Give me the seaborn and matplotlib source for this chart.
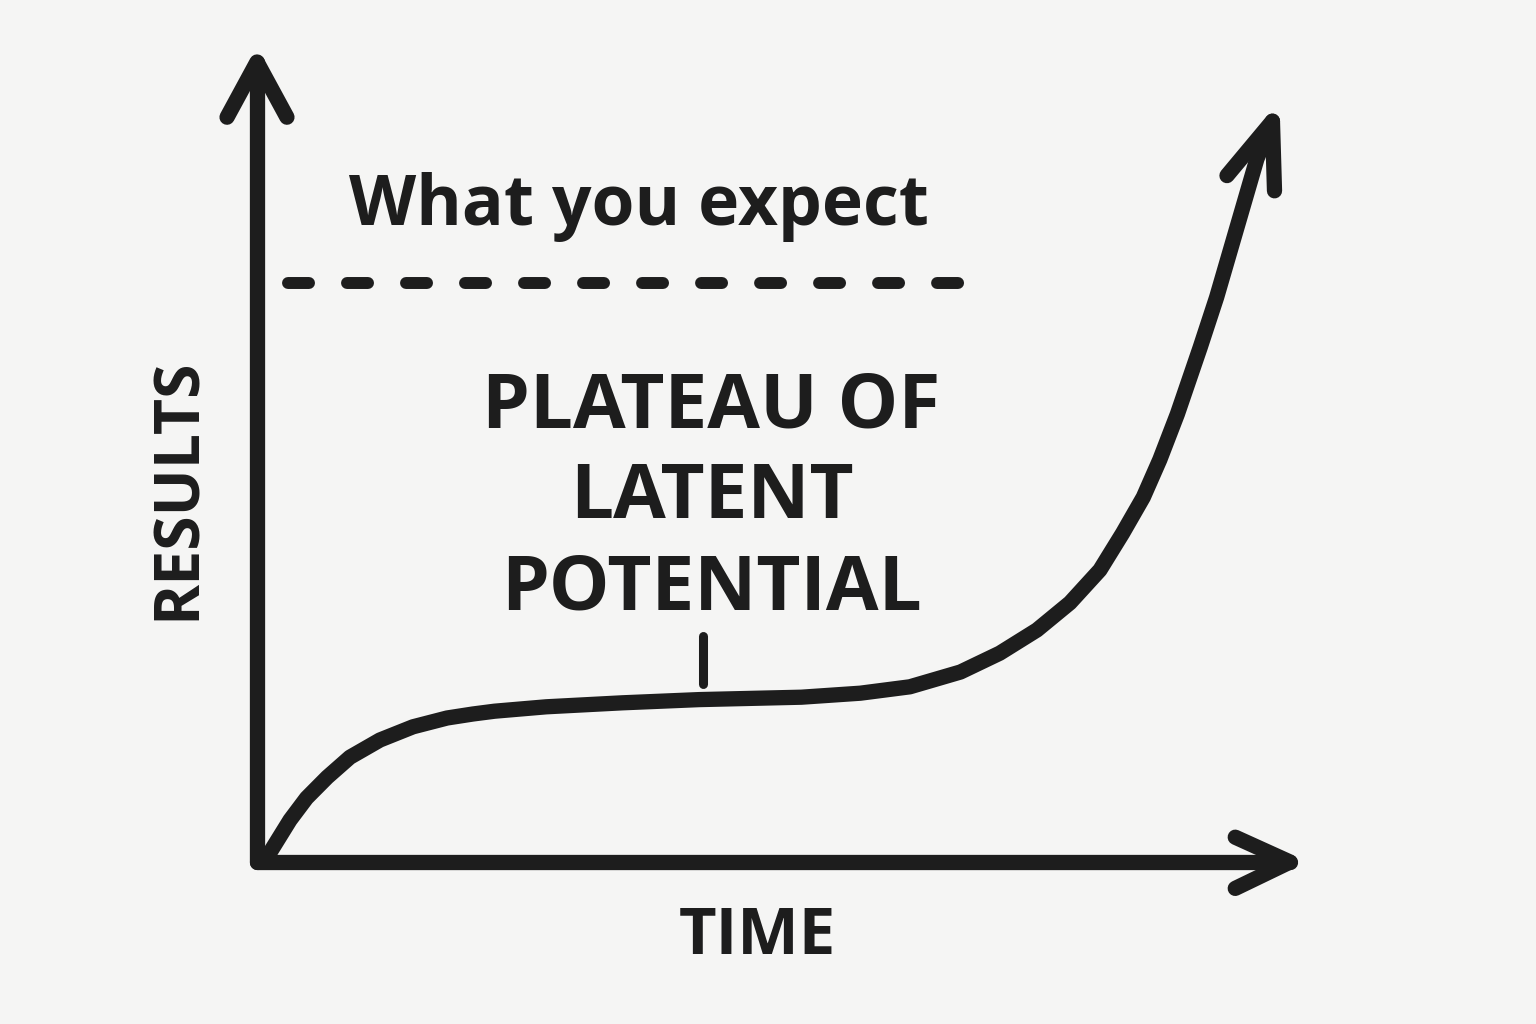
import matplotlib.pyplot as plt
import seaborn as sns

# curve (time vs results, arbitrary 0-10 units)
time = [0.08, 0.145, 0.32, 0.48, 0.68, 0.90, 1.19, 1.51, 1.84, 2.09, 2.30,
        2.80, 3.54, 4.28, 5.27, 5.84, 6.32, 6.81, 7.19, 7.55, 7.87, 8.16,
        8.38, 8.58, 8.74, 8.91, 9.13, 9.29, 9.52, 9.68, 9.83]
results = [0.02, 0.16, 0.525, 0.80, 1.06, 1.31, 1.525, 1.69, 1.80, 1.85,
           1.885, 1.94, 1.99, 2.03, 2.06, 2.11, 2.19, 2.375, 2.61, 2.90, 3.24,
           3.65, 4.11, 4.56, 5.03, 5.60, 6.43, 7.06, 8.08, 8.79, 9.26]
# arrow head of the curve
head_x = [9.39, 9.83, 9.85]
head_y = [8.58, 9.26, 8.39]
# dashed "expectation" level
expect_x = [0.30, 6.81]
expect_y = [7.24, 7.24]
# small marker under the label
marker_x = [4.32, 4.32]
marker_y = [2.23, 2.83]

ink = '#1d1d1d'
paper = '#f5f5f4'

sns.set_theme(style='white')
plt.rcParams['font.family'] = ['Open Sans', 'DejaVu Sans']

fig = plt.figure(figsize=(15.36, 10.24), dpi=100, facecolor=paper)
ax = fig.add_axes([257 / 1536, 162 / 1024, 1033 / 1536, 800 / 1024])
ax.set_facecolor(paper)
ax.set_xlim(0, 10)
ax.set_ylim(0, 10)
ax.axis('off')

line_kw = dict(color=ink, solid_capstyle='round', solid_joinstyle='round',
               clip_on=False)

# axes drawn as arrows
ax.plot([0, 0], [0, 10], lw=11, **line_kw)
ax.plot([-0.29, 0, 0.29], [9.31, 10, 9.31], lw=11, **line_kw)
ax.plot([0, 10], [0, 0], lw=11, **line_kw)
ax.plot([9.47, 10, 9.47], [0.31, 0, -0.33], lw=11, **line_kw)

sns.lineplot(x=time, y=results, ax=ax, sort=False, estimator=None,
             lw=11, **line_kw)
ax.plot(head_x, head_y, lw=11, **line_kw)

ax.plot(expect_x, expect_y, lw=8.6, color=ink, dashes=(1.76, 3.18),
        dash_capstyle='round', clip_on=False)
ax.plot(marker_x, marker_y, lw=6.5, **line_kw)

ax.text(3.70, 7.96, 'What you expect', ha='center', va='baseline',
        fontsize=50, color=ink, fontweight='bold')

for label, yb in [('PLATEAU OF', 5.43), ('LATENT', 4.30), ('POTENTIAL', 3.15)]:
    ax.text(4.40, yb, label, ha='center', va='baseline', fontsize=55,
            color=ink, fontweight='bold')

ax.text(-0.76, 4.67, 'RESULTS', ha='center', va='center', rotation=90,
        fontsize=45, color=ink, fontweight='bold')
ax.text(4.84, -0.94, 'TIME', ha='center', va='center', fontsize=47,
        color=ink, fontweight='bold')

plt.savefig('out.png', dpi=100, facecolor=paper)
